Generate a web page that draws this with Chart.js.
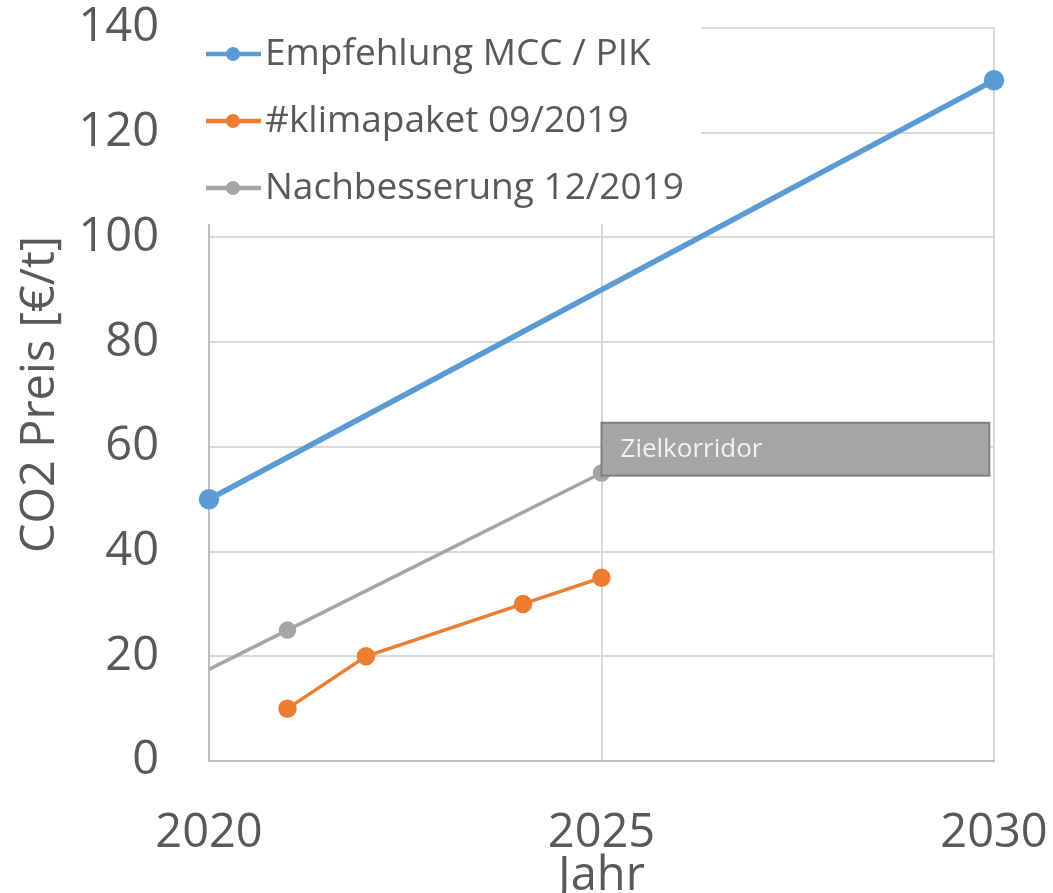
<!DOCTYPE html>
<html lang="de">
<head>
  <meta charset="utf-8" />
  <script src="https://cdn.jsdelivr.net/npm/chart.js/dist/chart.umd.min.js"></script>
  <style>
    body { margin: 0; background: #fff; }
    #wrap { width: 1053px; height: 893px; }
  </style>
</head>
<body>
  <div id="wrap">
    <canvas id="co2Chart" width="1053" height="893"></canvas>
  </div>
  <script>
// Daten
const mccYears = [2020, 2030];
const mccPrice = [50, 130];
const klimaYears = [2021, 2022, 2024, 2025];
const klimaPrice = [10, 20, 30, 35];
const nachYears = [2020, 2021, 2025];
const nachPrice = [17.5, 25, 55];
const nachMarker = [0, 7, 7];
const seriesNames = ['Empfehlung MCC / PIK', '#klimapaket 09/2019', 'Nachbesserung 12/2019'];
const xTicks = [2020, 2025, 2030];
const corridorYears = [2025, 2029.94];
const corridorPrice = [54.5, 64.6];
const corridorLabel = 'Zielkorridor';

const FONT = '"Open Sans", "Noto Sans", sans-serif';
const TXT = '#595959';

function toPoints(xs, ys) {
  return xs.map((x, i) => ({ x: x, y: ys[i] }));
}

// Legende mit weissem Hintergrund (deckt Gitterlinien ab)
const legendBox = {
  id: 'legendBox',
  beforeDatasetsDraw(chart) {
    const c = chart.ctx;
    c.save();
    c.fillStyle = '#ffffff';
    c.fillRect(200, 0, 501, 224);
    const rows = [54, 121, 188];
    chart.data.datasets.forEach((ds, i) => {
      const y = rows[i];
      c.strokeStyle = ds.borderColor;
      c.lineWidth = 4.5;
      c.beginPath();
      c.moveTo(206, y);
      c.lineTo(261, y);
      c.stroke();
      c.fillStyle = ds.borderColor;
      c.beginPath();
      c.arc(233, y, 7, 0, Math.PI * 2);
      c.fill();
      c.fillStyle = TXT;
      c.font = '37px ' + FONT;
      c.textBaseline = 'middle';
      c.textAlign = 'left';
      c.fillText(ds.label, 265, y);
    });
    c.restore();
  }
};

// Zielkorridor-Kasten
const corridor = {
  id: 'corridor',
  afterDatasetsDraw(chart) {
    const {ctx: c, scales: {x, y}} = chart;
    const x0 = x.getPixelForValue(corridorYears[0]);
    const x1 = x.getPixelForValue(corridorYears[1]);
    const y0 = y.getPixelForValue(corridorPrice[1]);
    const y1 = y.getPixelForValue(corridorPrice[0]);
    c.save();
    c.fillStyle = '#a5a5a5';
    c.fillRect(x0, y0, x1 - x0, y1 - y0);
    c.strokeStyle = '#7f7f7f';
    c.lineWidth = 2;
    c.strokeRect(x0, y0, x1 - x0, y1 - y0);
    c.fillStyle = '#f2f2f2';
    c.font = '26px ' + FONT;
    c.textBaseline = 'middle';
    c.fillText(corridorLabel, x0 + 19, (y0 + y1) / 2);
    c.restore();
  }
};

const ctx = document.getElementById('co2Chart').getContext('2d');
new Chart(ctx, {
  type: 'line',
  data: {
    datasets: [{
      label: seriesNames[0],
      data: toPoints(mccYears, mccPrice),
      borderColor: '#5b9bd5',
      backgroundColor: '#5b9bd5',
      borderWidth: 5.5,
      pointRadius: 7.5,
      tension: 0,
      clip: false
    }, {
      label: seriesNames[1],
      data: toPoints(klimaYears, klimaPrice),
      borderColor: '#ed7d31',
      backgroundColor: '#ed7d31',
      borderWidth: 3.5,
      pointRadius: 7.5,
      tension: 0,
      clip: false
    }, {
      label: seriesNames[2],
      data: toPoints(nachYears, nachPrice),
      borderColor: '#a5a5a5',
      backgroundColor: '#a5a5a5',
      borderWidth: 3.5,
      pointRadius: nachMarker,
      tension: 0,
      clip: false
    }]
  },
  options: {
    responsive: false,
    animation: false,
    events: [],
    layout: { padding: { top: 28, right: 59, left: 0, bottom: 0 } },
    plugins: {
      legend: { display: false },
      tooltip: { enabled: false }
    },
    scales: {
      x: {
        type: 'linear',
        min: 2020,
        max: 2030,
        afterBuildTicks(scale) {
          scale.ticks = xTicks.map(v => ({ value: v }));
        },
        afterFit(scale) {
          scale.height = 132;
          scale.paddingLeft = 0;
          scale.paddingRight = 0;
        },
        grid: { color: '#d9d9d9', lineWidth: 2, drawTicks: false },
        border: { color: '#bfbfbf', width: 2 },
        ticks: {
          color: TXT,
          padding: 44,
          maxRotation: 0,
          font: { family: FONT, size: 47 },
          callback: v => String(v)
        },
        title: {
          display: true,
          text: 'Jahr',
          color: TXT,
          font: { family: FONT, size: 47, lineHeight: 0.68 },
          padding: { top: 0, bottom: 0 }
        }
      },
      y: {
        min: 0,
        max: 140,
        afterFit(scale) {
          scale.width = 209;
          scale.paddingTop = 0;
          scale.paddingBottom = 0;
        },
        grid: { color: '#d9d9d9', lineWidth: 2, drawTicks: false },
        border: { color: '#bfbfbf', width: 2 },
        ticks: {
          stepSize: 20,
          color: TXT,
          padding: 50,
          font: { family: FONT, size: 47 }
        },
        title: {
          display: true,
          text: 'CO2 Preis [€/t]',
          color: TXT,
          font: { family: FONT, size: 47, lineHeight: 1.2 },
          padding: { top: 12, bottom: 0 }
        }
      }
    }
  },
  plugins: [legendBox, corridor]
});
  </script>
</body>
</html>
